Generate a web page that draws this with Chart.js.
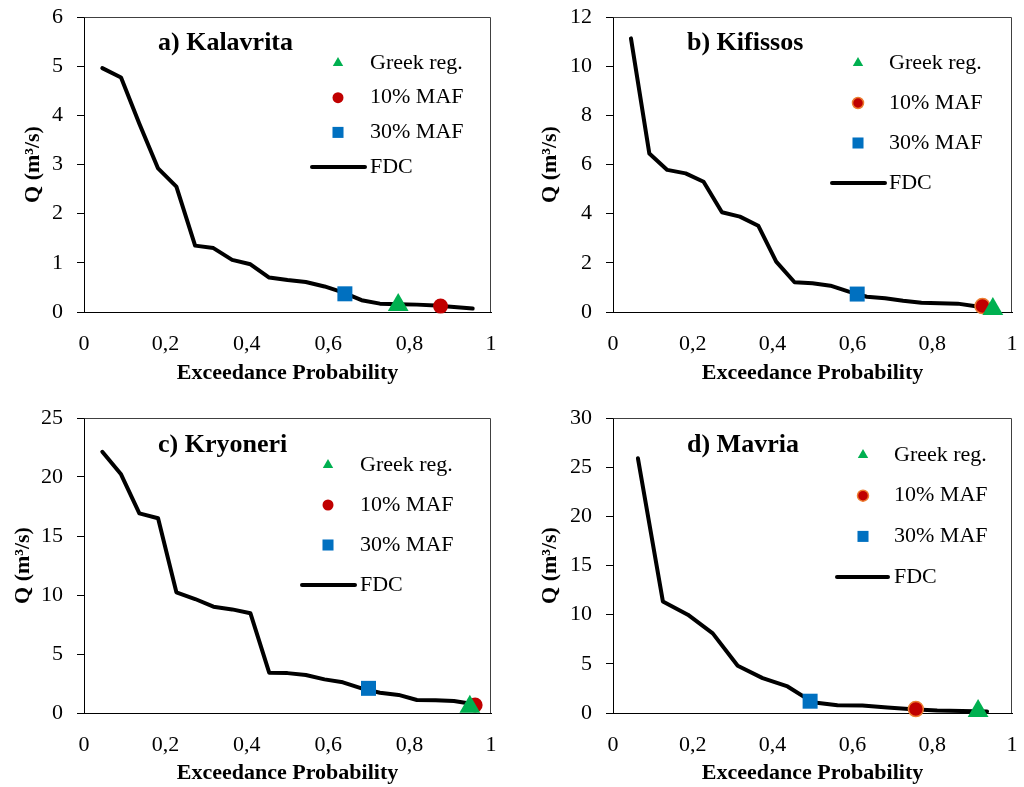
<!DOCTYPE html>
<html>
<head>
<meta charset="utf-8">
<script src="https://cdn.jsdelivr.net/npm/chart.js@4.4.1/dist/chart.umd.min.js"></script>
<style>
  html, body { margin: 0; padding: 0; background: #fff; }
  #wrap { position: relative; width: 1024px; height: 787px; }
  canvas { position: absolute; }
</style>
</head>
<body>
<div id="wrap">
  <canvas id="cA" width="512" height="393" style="left:0;top:0"></canvas>
  <canvas id="cB" width="512" height="393" style="left:512px;top:0"></canvas>
  <canvas id="cC" width="512" height="394" style="left:0;top:393px"></canvas>
  <canvas id="cD" width="512" height="394" style="left:512px;top:393px"></canvas>
</div>
<script>
/* ── data ── */
const probA  = [0.045, 0.091, 0.136, 0.182, 0.227, 0.273, 0.318, 0.364, 0.409, 0.455, 0.5, 0.545, 0.591, 0.636, 0.682, 0.727, 0.773, 0.818, 0.864, 0.909, 0.955];
const flowA  = [4.96, 4.77, 3.83, 2.92, 2.55, 1.35, 1.30, 1.06, 0.97, 0.70, 0.65, 0.61, 0.52, 0.40, 0.24, 0.17, 0.16, 0.15, 0.13, 0.10, 0.07];
const probB  = [0.045, 0.091, 0.136, 0.182, 0.227, 0.273, 0.318, 0.364, 0.409, 0.455, 0.5, 0.545, 0.591, 0.636, 0.682, 0.727, 0.773, 0.818, 0.864, 0.909];
const flowB  = [11.13, 6.45, 5.78, 5.64, 5.30, 4.06, 3.88, 3.51, 2.05, 1.21, 1.17, 1.07, 0.83, 0.62, 0.56, 0.46, 0.38, 0.36, 0.34, 0.23];
const probC  = [0.045, 0.091, 0.136, 0.182, 0.227, 0.273, 0.318, 0.364, 0.409, 0.455, 0.5, 0.545, 0.591, 0.636, 0.682, 0.727, 0.773, 0.818, 0.864, 0.909, 0.955];
const flowC  = [22.14, 20.23, 16.92, 16.5, 10.23, 9.66, 9.01, 8.78, 8.45, 3.42, 3.38, 3.22, 2.85, 2.6, 2.09, 1.72, 1.53, 1.1, 1.08, 1.02, 0.77];
const probD  = [0.0625, 0.125, 0.1875, 0.25, 0.3125, 0.375, 0.4375, 0.5, 0.5625, 0.625, 0.6875, 0.75, 0.8125, 0.875, 0.9375];
const flowD  = [25.9, 11.35, 10.0, 8.1, 4.8, 3.55, 2.7, 1.1, 0.78, 0.76, 0.55, 0.38, 0.25, 0.2, 0.15];

// single estimates [exceedance prob, Q]
const greekA = [0.772, 0.14], maf10A = [0.876, 0.12], maf30A = [0.641, 0.37];
const greekB = [0.952, 0.12], maf10B = [0.926, 0.24], maf30B = [0.612, 0.73];
const greekC = [0.948, 0.53], maf10C = [0.961, 0.68], maf30C = [0.699, 2.09];
const greekD = [0.915, 0.20], maf10D = [0.759, 0.40], maf30D = [0.494, 1.20];

const titles      = ['a) Kalavrita', 'b) Kifissos', 'c) Kryoneri', 'd) Mavria'];
const yMaxes      = [6, 12, 25, 30];
const ySteps      = [1, 2, 5, 5];
const seriesNames = ['Greek reg.', '10% MAF', '30% MAF', 'FDC'];
const xTicks      = [0, 0.2, 0.4, 0.6, 0.8, 1];

/* ── styling ── */
const FONT  = '"Liberation Serif", "Times New Roman", serif';
const GREEN = '#00B050', RED = '#C00000', BLUE = '#0070C0', ORANGE = '#ED7D31';
const LEGEND_R = { triangle: 6, circle: 5.5, rect: 7.8 };

const toPts = (xs, ys) => xs.map((x, i) => ({ x, y: ys[i] }));

// fixed axis boxes; drop the label-overflow padding so the plot area sits where the figure has it
function fixBox(s, w, h) {
  if (w != null) s.width = w;
  if (h != null) s.height = h;
  s.paddingTop = s.paddingBottom = s.paddingLeft = s.paddingRight = 0;
}

// top/right frame, panel title, in-plot legend
const panelDecor = {
  id: 'panelDecor',
  afterDraw(chart, args, o) {
    const { ctx, chartArea: a } = chart;
    ctx.save();
    ctx.strokeStyle = '#404040'; ctx.lineWidth = 1;
    const L = Math.round(a.left) + 0.5, T = Math.round(a.top) + 0.5, R = Math.round(a.right) - 0.5, B = Math.round(a.bottom);
    ctx.beginPath(); ctx.moveTo(L, T); ctx.lineTo(R, T); ctx.lineTo(R, B); ctx.stroke();

    ctx.fillStyle = '#000'; ctx.textBaseline = 'middle'; ctx.textAlign = 'left';
    ctx.font = 'bold 26px ' + FONT;
    ctx.fillText(o.title, a.left + o.titleDx, a.top + o.titleDy);

    ctx.font = '22px ' + FONT;
    chart.data.datasets.forEach((ds, i) => {
      const y = a.top + o.lgTop + i * o.lgGap;
      if (ds.showLine) {
        ctx.strokeStyle = ds.borderColor; ctx.lineWidth = 4; ctx.lineCap = 'round';
        ctx.beginPath(); ctx.moveTo(a.right - o.lineFrom, y); ctx.lineTo(a.right - o.lineTo, y); ctx.stroke();
      } else {
        ctx.fillStyle = ds.pointBackgroundColor; ctx.strokeStyle = ds.pointBorderColor;
        ctx.lineWidth = ds.pointBorderWidth;
        Chart.helpers.drawPoint(ctx, { pointStyle: ds.pointStyle, radius: LEGEND_R[ds.pointStyle], rotation: 0, borderWidth: ds.pointBorderWidth }, a.right - o.markerDx, y);
      }
      ctx.fillStyle = '#000';
      ctx.fillText(ds.label, a.right - o.textDx, y);
    });
    ctx.restore();
  }
};

function makePanel(id, k, probs, flows, greek, maf10, maf30, lay) {
  const ringed = lay.ringed;
  new Chart(document.getElementById(id), {
    type: 'scatter',
    data: { datasets: [
      { label: seriesNames[0], data: [{ x: greek[0], y: greek[1] }], pointStyle: 'triangle', pointRadius: 12,
        pointBackgroundColor: GREEN, pointBorderColor: GREEN, pointBorderWidth: 0, clip: false },
      { label: seriesNames[1], data: [{ x: maf10[0], y: maf10[1] }], pointStyle: 'circle', pointRadius: 7.5,
        pointBackgroundColor: RED, pointBorderColor: ringed ? ORANGE : RED, pointBorderWidth: ringed ? 1.5 : 0, clip: false },
      { label: seriesNames[2], data: [{ x: maf30[0], y: maf30[1] }], pointStyle: 'rect', pointRadius: 10.6,
        pointBackgroundColor: BLUE, pointBorderColor: BLUE, pointBorderWidth: 0, clip: false },
      { label: seriesNames[3], data: toPts(probs, flows), showLine: true, pointRadius: 0,
        borderColor: '#000', borderWidth: 4, borderJoinStyle: 'round', borderCapStyle: 'round', tension: 0, clip: false },
    ]},
    options: {
      responsive: false, animation: false,
      layout: { padding: { left: 0, top: lay.top, right: lay.right, bottom: 0 } },
      plugins: { legend: { display: false }, tooltip: { enabled: false }, panelDecor: Object.assign({ title: titles[k] }, lay) },
      scales: {
        x: {
          type: 'linear', min: 0, max: 1,
          afterFit: s => fixBox(s, null, lay.xH),
          afterBuildTicks: s => { s.ticks = xTicks.map(v => ({ value: v })); },
          grid: { display: false, drawTicks: false },
          border: { display: true, color: '#000', width: 1 },
          ticks: { color: '#000', padding: lay.xPad, font: { family: FONT, size: 22 },
                   callback: v => String(Math.round(v * 10) / 10).replace('.', ',') },
          title: { display: true, text: 'Exceedance Probability', color: '#000',
                   font: { family: FONT, size: 22, weight: 'bold' }, padding: { top: 0, bottom: lay.xTitlePad } },
        },
        y: {
          min: 0, max: yMaxes[k],
          afterFit: s => fixBox(s, lay.yW, null),
          grid: { display: true, drawOnChartArea: false, drawTicks: true, tickLength: 7, color: '#000', lineWidth: 1 },
          border: { display: true, color: '#000', width: 1 },
          ticks: { color: '#000', stepSize: ySteps[k], padding: 14, font: { family: FONT, size: 22 } },
          title: { display: true, text: 'Q (m³/s)', color: '#000',
                   font: { family: FONT, size: 22, weight: 'bold' }, padding: { top: lay.yTitlePad, bottom: 0 } },
        },
      },
    },
    plugins: [panelDecor],
  });
}

makePanel('cA', 0, probA, flowA, greekA, maf10A, maf30A,
  { top: 17, right: 21, yW: 84, xH: 81, xPad: 19, xTitlePad: 6, yTitlePad: 20, ringed: false,
    titleDx: 74, titleDy: 26, lgTop: 46, lgGap: 34.7, markerDx: 153, textDx: 121, lineFrom: 179, lineTo: 126 });
makePanel('cB', 1, probB, flowB, greekB, maf10B, maf30B,
  { top: 17, right: 5, yW: 101, xH: 81, xPad: 19, xTitlePad: 6, yTitlePad: 25, ringed: true,
    titleDx: 74, titleDy: 26, lgTop: 46, lgGap: 40, markerDx: 154, textDx: 123, lineFrom: 180, lineTo: 127 });
makePanel('cC', 2, probC, flowC, greekC, maf10C, maf30C,
  { top: 25, right: 21, yW: 84, xH: 74, xPad: 19, xTitlePad: 0, yTitlePad: 10, ringed: false,
    titleDx: 74, titleDy: 27, lgTop: 47, lgGap: 40, markerDx: 163, textDx: 131, lineFrom: 189, lineTo: 136 });
makePanel('cD', 3, probD, flowD, greekD, maf10D, maf30D,
  { top: 25, right: 5, yW: 101, xH: 74, xPad: 19, xTitlePad: 0, yTitlePad: 25, ringed: true,
    titleDx: 74, titleDy: 27, lgTop: 37, lgGap: 40.7, markerDx: 149, textDx: 118, lineFrom: 175, lineTo: 124 });
</script>
</body>
</html>
